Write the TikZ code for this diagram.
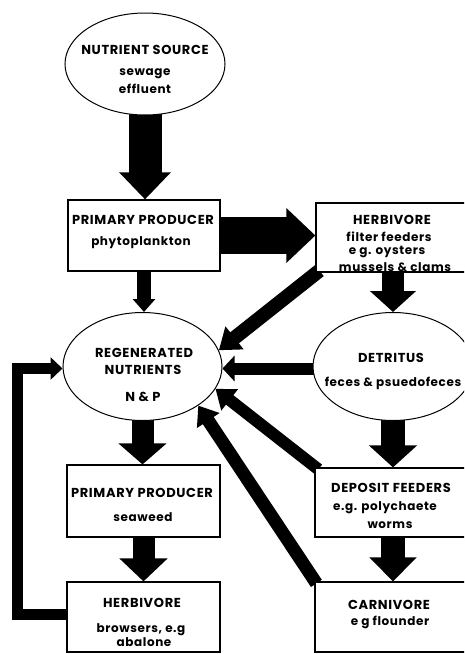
\documentclass[tikz,border=0pt]{standalone}
\usepackage{fontspec}
\setmainfont{Poppins}[LetterSpace=5]
\usetikzlibrary{shapes.geometric,arrows.meta,calc}
\pgfdeclarelayer{bg}
\pgfsetlayers{bg,main}
\tikzset{
  oval/.style={ellipse,draw,line width=1pt,fill=white,inner sep=0pt},
  box/.style={rectangle,draw,line width=1.2pt,fill=white,inner sep=0pt},
  captxt/.style={font=\bfseries\fontsize{13}{14}\selectfont,inner sep=0pt},
  subtxt/.style={font=\bfseries\fontsize{12}{13}\selectfont,inner sep=0pt},
  fat/.style={line width=#1pt},
}
\begin{document}
\begin{tikzpicture}[x=1pt,y=-1pt]
\clip (0,0) rectangle (464,654);
% nodes
\node[oval,minimum width=160pt,minimum height=102pt] (ns) at (145,64) {};
\node[box,minimum width=152pt,minimum height=71pt] (pp1) at (144,235.5) {};
\node[box,minimum width=164pt,minimum height=69pt] (herb) at (398,237.5) {};
\node[oval,minimum width=159pt,minimum height=108pt] (regen) at (142.5,366.5) {};
\node[oval,minimum width=160pt,minimum height=108pt] (det) at (393,366.5) {};
\node[box,minimum width=153pt,minimum height=72pt] (sw) at (143.5,501) {};
\node[box,minimum width=153pt,minimum height=70pt] (hb2) at (143.5,617) {};
\node[box,minimum width=165pt,minimum height=69pt] (df) at (397.5,502.5) {};
\node[box,minimum width=165pt,minimum height=70pt] (carn) at (397.5,617) {};
\coordinate (loopx) at (17.5,0);
\coordinate (lb) at ($(hb2.west)+(0,-3)$);
\coordinate (lt) at ($(regen.west)+(0,2)$);
% texts
\node[captxt] (t1) at (145,50) {NUTRIENT SOURCE};
\node[subtxt] (t2) at (145,74) {sewage};
\node[subtxt] (t3) at (145,89) {effluent};
\node[captxt] (t4) at (143,220) {PRIMARY PRODUCER};
\node[subtxt] (t5) at (141,243) {phytoplankton};
\node[captxt] (t6) at (392,220) {HERBIVORE};
\node[subtxt] (t7) at (389,237) {filter feeders};
\node[subtxt] (t8) at (387,252) {e g. oysters};
\node[subtxt] (t9) at (395,267) {mussels \& clams};
\node[captxt] (t10) at (144,353) {REGENERATED};
\node[captxt] (t11) at (143,370) {NUTRIENTS};
\node[captxt] (t12) at (143,397) {N \& P};
\node[captxt] (t13) at (391,358) {DETRITUS};
\node[subtxt] (t14) at (393,383) {feces \& psuedofeces};
\node[captxt] (t15) at (142,493) {PRIMARY PRODUCER};
\node[subtxt] (t16) at (143,517) {seaweed};
\node[captxt] (t17) at (142,603) {HERBIVORE};
\node[subtxt] (t18) at (141,630) {browsers, e.g};
\node[subtxt] (t19) at (144,642) {abalone};
\node[captxt] (t20) at (391,488) {DEPOSIT FEEDERS};
\node[subtxt] (t21) at (385,508) {e.g. polychaete};
\node[subtxt] (t22) at (390,525) {worms};
\node[captxt] (t23) at (389,605) {CARNIVORE};
\node[subtxt] (t24) at (390,622) {e g flounder};
% arrows
\begin{pgfonlayer}{bg}
\draw[fat=33,-{Triangle[width=50pt,length=27pt]}] ($(ns.south)+(0,-8)$) -- (ns.south |- pp1.north);
\draw[fat=37,-{Triangle[width=53pt,length=29pt]}] (pp1.east) -- (pp1.east -| herb.west);
\draw[fat=14,-{Triangle[width=22pt,length=13pt]}] (pp1.south) -- (pp1.south |- regen.north);
\draw[fat=22,-{Triangle[width=45pt,length=21pt]}] (det.north |- herb.south) -- (det.north);
\draw[fat=14,-{Triangle[width=28pt,length=20pt]}] ($(herb.south west)+(4,-2)$) -- (regen.12);
\draw[fat=12,-{Triangle[width=25pt,length=12pt]}] ($(det.west)+(5,2)$) -- ($(regen.east)+(0,2)$);
\draw[fat=12,-{Triangle[width=26pt,length=18pt]}] ($(df.north west)+(4,2)$) -- (regen.-17);
\draw[fat=13,-{Triangle[width=26pt,length=18pt]}] ($(carn.north west)+(2,2)$) -- (regen.-35);
\draw[fat=22,-{Triangle[width=47pt,length=21pt]}] ($(regen.south)+(0,-8)$) -- (regen.south |- sw.north);
\draw[fat=22,-{Triangle[width=47pt,length=23pt]}] (sw.south) -- (sw.south |- hb2.north);
\draw[fat=24,-{Triangle[width=47pt,length=22pt]}] ($(det.south)+(0,-8)$) -- (det.south |- df.north);
\draw[fat=24,-{Triangle[width=46pt,length=24pt]}] (df.south -| det.south) -- (det.south |- carn.north);
\draw[fat=11,line join=miter,-{Triangle[width=22pt,length=12pt]}] (lb) -- (lb -| loopx) -- (loopx |- lt) -- (lt);
\end{pgfonlayer}
\end{tikzpicture}
\end{document}
